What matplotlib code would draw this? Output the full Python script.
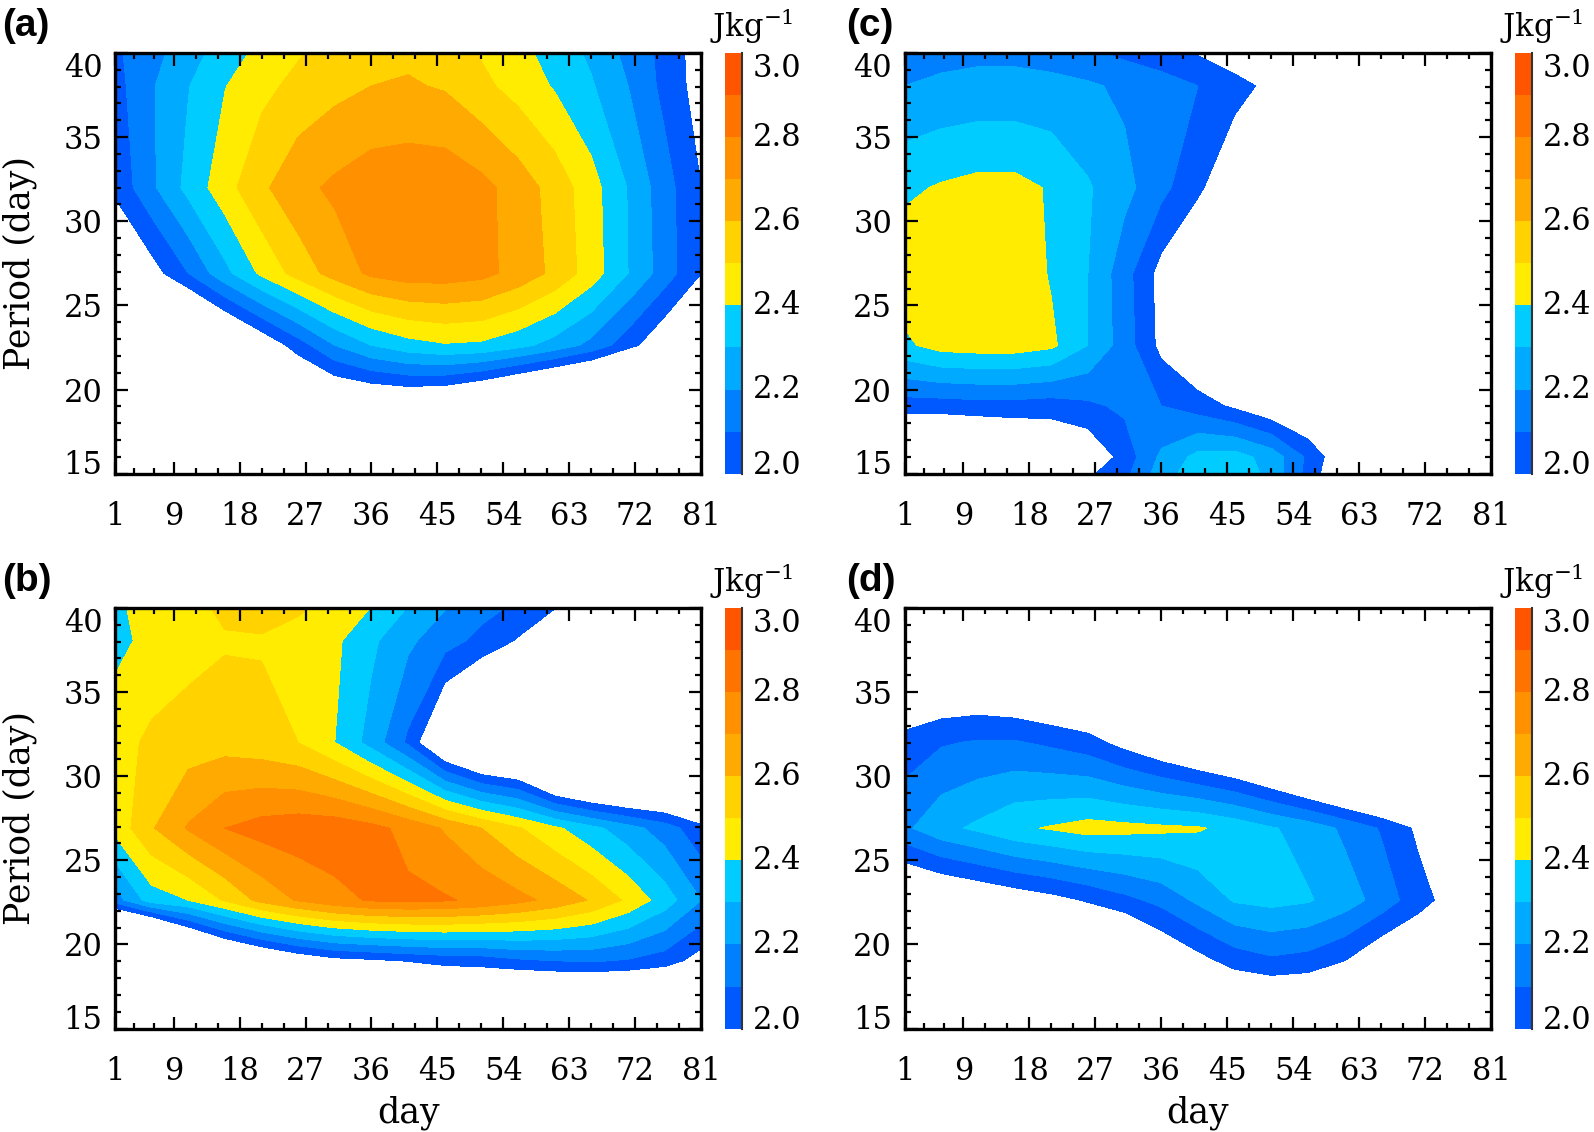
import numpy as np
import matplotlib
matplotlib.use('Agg')
import matplotlib.pyplot as plt

plt.rcParams['font.family'] = ['DejaVu Serif']
plt.rcParams['mathtext.fontset'] = 'dejavuserif'

# ---------------- data ----------------
days = [1, 6, 11, 16, 21, 26, 31, 36, 41, 46, 51, 56, 61, 66, 71, 76, 81]
periods = [45.25, 38.05, 32.0, 26.91, 22.63, 19.03, 16.0, 13.45]   # wavelet periods (top -> bottom)

levels = [2.0, 2.1, 2.2, 2.3, 2.4, 2.5, 2.6, 2.7, 2.8, 2.9, 3.0]
colors = ['#0058FF', '#0080FF', '#00AAFF', '#00CCFF', '#FFEC00',
          '#FFD200', '#FFAA00', '#FF9100', '#FF7300', '#FF5500']
cbar_ticks = [2.0, 2.2, 2.4, 2.6, 2.8, 3.0]
x_major = [1, 9, 18, 27, 36, 45, 54, 63, 72, 81]
y_major = [15, 20, 25, 30, 35, 40]

panel_a = [
    [2.10, 2.12, 2.18, 2.24, 2.31, 2.38, 2.44, 2.49, 2.50, 2.48, 2.40, 2.35, 2.28, 2.20, 2.13, 2.07, 1.91],
    [2.06, 2.19, 2.295, 2.396, 2.47, 2.53, 2.57, 2.60, 2.61, 2.59, 2.525, 2.46, 2.39, 2.31, 2.20, 2.07, 1.95],
    [2.02, 2.18, 2.33, 2.46, 2.58, 2.67, 2.72, 2.76, 2.77, 2.77, 2.73, 2.655, 2.56, 2.44, 2.295, 2.14, 2.00],
    [1.85, 1.95, 2.10, 2.27, 2.42, 2.54, 2.64, 2.72, 2.75, 2.75, 2.73, 2.665, 2.575, 2.45, 2.30, 2.15, 2.00],
    [1.30, 1.45, 1.60, 1.75, 1.90, 2.05, 2.20, 2.30, 2.36, 2.39, 2.38, 2.33, 2.26, 2.17, 2.04, 1.90, 1.80],
    [1.20, 1.30, 1.40, 1.50, 1.60, 1.73, 1.80, 1.82, 1.83, 1.80, 1.72, 1.62, 1.53, 1.47, 1.28, 1.10, 1.00],
    [1.00, 1.05, 1.10, 1.20, 1.30, 1.40, 1.50, 1.55, 1.55, 1.50, 1.45, 1.35, 1.25, 1.15, 1.00, 0.90, 0.85],
    [0.90, 0.95, 1.00, 1.05, 1.15, 1.25, 1.35, 1.40, 1.40, 1.35, 1.30, 1.20, 1.10, 1.00, 0.90, 0.80, 0.80],
]

panel_b = [
    [2.41, 2.47, 2.53, 2.60, 2.67, 2.58, 2.60, 2.60, 2.50, 2.38, 2.30, 2.30, 2.28, 2.22, 2.15, 2.10, 2.05],
    [2.37, 2.43, 2.46, 2.49, 2.49, 2.48, 2.42, 2.32, 2.22, 2.14, 2.07, 1.99, 1.90, 1.80, 1.75, 1.70, 1.70],
    [2.46, 2.52, 2.55, 2.56, 2.54, 2.50, 2.40, 2.26, 2.08, 1.80, 1.64, 1.60, 1.30, 1.20, 1.20, 1.30, 1.30],
    [2.43, 2.59, 2.71, 2.80, 2.84, 2.86, 2.86, 2.83, 2.77, 2.69, 2.60, 2.51, 2.42, 2.33, 2.24, 2.15, 2.03],
    [2.15, 2.35, 2.40, 2.51, 2.63, 2.71, 2.77, 2.81, 2.82, 2.81, 2.78, 2.73, 2.67, 2.59, 2.48, 2.35, 2.20],
    [1.00, 1.06, 1.49, 1.70, 1.81, 1.90, 1.96, 1.98, 2.005, 2.03, 2.04, 2.08, 2.10, 2.11, 2.09, 2.05, 1.95],
    [0.80, 0.90, 1.10, 1.30, 1.40, 1.50, 1.55, 1.60, 1.65, 1.70, 1.70, 1.60, 1.60, 1.60, 1.60, 1.60, 1.50],
    [0.70, 0.80, 1.00, 1.10, 1.20, 1.30, 1.35, 1.40, 1.40, 1.40, 1.40, 1.35, 1.35, 1.35, 1.35, 1.30, 1.30],
]

panel_c = [
    [2.00, 2.03, 2.04, 2.04, 2.00, 1.85, 1.80, 1.80, 1.70, 1.63, 1.60, 1.55, 1.50, 1.50, 1.50, 1.50, 1.50],
    [2.20, 2.22, 2.23, 2.23, 2.225, 2.215, 2.18, 2.14, 2.10, 2.04, 1.97, 1.90, 1.85, 1.80, 1.75, 1.70, 1.70],
    [2.38, 2.41, 2.43, 2.43, 2.39, 2.31, 2.23, 2.13, 2.02, 1.90, 1.80, 1.75, 1.70, 1.65, 1.60, 1.60, 1.60],
    [2.47, 2.48, 2.48, 2.47, 2.39, 2.30, 2.14, 1.96, 1.85, 1.80, 1.75, 1.70, 1.65, 1.60, 1.60, 1.60, 1.60],
    [2.38, 2.44, 2.45, 2.45, 2.42, 2.30, 2.15, 1.97, 1.85, 1.80, 1.75, 1.70, 1.65, 1.60, 1.60, 1.60, 1.60],
    [2.05, 2.05, 2.06, 2.06, 2.05, 2.08, 2.12, 2.10, 2.05, 1.98, 1.90, 1.85, 1.80, 1.75, 1.70, 1.70, 1.70],
    [1.70, 1.72, 1.75, 1.80, 1.85, 1.90, 2.04, 2.22, 2.33, 2.34, 2.26, 2.08, 1.90, 1.80, 1.70, 1.70, 1.70],
    [1.60, 1.62, 1.65, 1.70, 1.85, 2.08, 2.12, 2.30, 2.38, 2.40, 2.30, 2.03, 1.85, 1.75, 1.70, 1.70, 1.70],
]

panel_d = [
    [1.50, 1.50, 1.50, 1.50, 1.50, 1.50, 1.50, 1.50, 1.50, 1.50, 1.50, 1.50, 1.50, 1.50, 1.50, 1.50, 1.50],
    [1.70, 1.70, 1.70, 1.65, 1.60, 1.60, 1.60, 1.60, 1.55, 1.55, 1.50, 1.50, 1.50, 1.50, 1.50, 1.50, 1.50],
    [2.04, 2.09, 2.11, 2.11, 2.08, 2.04, 1.96, 1.88, 1.80, 1.73, 1.63, 1.49, 1.38, 1.31, 1.30, 1.30, 1.30],
    [2.18, 2.27, 2.32, 2.38, 2.41, 2.44, 2.43, 2.42, 2.41, 2.37, 2.31, 2.26, 2.18, 2.09, 1.98, 1.85, 1.75],
    [1.80, 1.84, 1.88, 1.92, 1.96, 2.01, 2.07, 2.13, 2.22, 2.31, 2.33, 2.31, 2.25, 2.16, 2.04, 1.95, 1.85],
    [1.65, 1.68, 1.70, 1.70, 1.70, 1.73, 1.72, 1.87, 1.96, 2.04, 2.08, 2.06, 2.00, 1.89, 1.86, 1.80, 1.75],
    [1.50, 1.50, 1.50, 1.55, 1.60, 1.60, 1.60, 1.65, 1.70, 1.80, 1.80, 1.80, 1.75, 1.70, 1.65, 1.60, 1.60],
    [1.40, 1.40, 1.40, 1.40, 1.45, 1.45, 1.45, 1.50, 1.50, 1.55, 1.55, 1.55, 1.50, 1.50, 1.45, 1.40, 1.40],
]

# ---------------- figure ----------------
W, H = 1594, 1132
fig = plt.figure(figsize=(W / 100, H / 100), dpi=100)

def fx(px):
    return px / W

def fy(py):
    return 1 - py / H

ax_w = (701.4 - 114.9) / W
ax_h = (473.7 - 53.0) / H
cb_w = 17 / W

layout = {
    'a': dict(left=114.9, top=53.0, cb=725.0, data=panel_a, ylabel=True, xlabel=False),
    'b': dict(left=114.9, top=607.9, cb=725.0, data=panel_b, ylabel=True, xlabel=True),
    'c': dict(left=904.7, top=53.0, cb=1515.0, data=panel_c, ylabel=False, xlabel=False),
    'd': dict(left=904.7, top=607.9, cb=1515.0, data=panel_d, ylabel=False, xlabel=True),
}

x_minor = []
for a, b in zip(x_major[:-1], x_major[1:]):
    x_minor += [a + (b - a) / 3, a + 2 * (b - a) / 3]
y_minor = [v for v in range(15, 41) if v not in y_major]

tick_fs = 22
label_fs = 25

per = np.array(periods)[::-1]
xd = np.array(days)

for key, L in layout.items():
    bottom_px = L['top'] + (473.7 - 53.0)
    ax = fig.add_axes([fx(L['left']), fy(bottom_px), ax_w, ax_h])
    Z = np.array(L['data'])[::-1]
    cf = ax.contourf(xd, per, Z, levels=levels, colors=colors)
    ax.set_xlim(1, 81)
    ax.set_ylim(15, 40)
    ax.set_xticks(x_major)
    ax.set_xticks(x_minor, minor=True)
    ax.set_yticks(y_major)
    ax.set_yticks(y_minor, minor=True)
    ax.set_xticklabels([str(v) for v in x_major])
    ax.set_yticklabels([str(v) for v in y_major])
    ax.tick_params(which='both', direction='in', top=True, right=True,
                   width=1.6, colors='black')
    ax.tick_params(which='major', length=9, labelsize=tick_fs)
    ax.tick_params(which='minor', length=4.5)
    ax.tick_params(axis='x', which='major', pad=20)
    ax.tick_params(axis='y', which='major', pad=9)
    for s in ax.spines.values():
        s.set_linewidth(2.4)
    yt = ax.yaxis.get_major_ticks()
    yt[0].label1.set_va('baseline')
    yt[-1].label1.set_va('top')
    if L['ylabel']:
        ax.set_ylabel('Period (day)', fontsize=label_fs)
        ax.yaxis.set_label_coords(-0.162, 0.5)
        ax.yaxis.label.set_va('center')
    if L['xlabel']:
        ax.set_xlabel('day', fontsize=label_fs)
        ax.xaxis.set_label_coords(0.5, -0.20)
        ax.xaxis.label.set_va('center')

    # colorbar
    cax = fig.add_axes([fx(L['cb']), fy(bottom_px), cb_w, ax_h])
    cb = fig.colorbar(cf, cax=cax, ticks=[])
    cb.outline.set_visible(False)
    cb.ax.tick_params(length=0)
    cax.plot([1, 1], [0, 1], transform=cax.transAxes, color='#333333',
             lw=1.5, clip_on=False)
    trans = cax.get_yaxis_transform()
    for i, t in enumerate(cbar_ticks):
        va = 'baseline' if i == 0 else ('top' if i == len(cbar_ticks) - 1 else 'center')
        cax.text(1.65, t, '%.1f' % t, transform=trans, fontsize=tick_fs,
                 ha='left', va=va)

    # unit label and panel letter
    fig.text(fx(L['cb'] + 27), fy(L['top'] - 27), 'Jkg$^{-1}$', fontsize=22,
             ha='center', va='center')
    fig.text(fx(L['left'] - 113 if key in 'ab' else L['left'] - 59),
             fy(L['top'] - 27), '(%s)' % key, fontsize=28, fontweight='bold',
             family=['Liberation Sans', 'DejaVu Sans'], ha='left', va='center')

fig.savefig('out.png', dpi=100)
